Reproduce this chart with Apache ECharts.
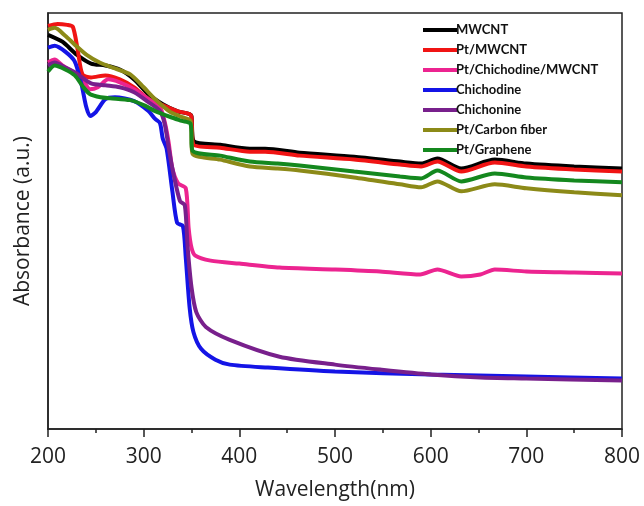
<!DOCTYPE html>
<html>
<head>
<meta charset="utf-8">
<script src="https://cdn.jsdelivr.net/npm/echarts@6/dist/echarts.min.js"></script>
<style>
  html, body { margin: 0; padding: 0; background: #fff; }
  #main { width: 644px; height: 506px; }
</style>
</head>
<body>
<div id="main"></div>
<script>
// [wavelength (nm), absorbance (a.u.)]
var mwcnt = [[200,3.98],[215,3.91],[230,3.78],[245,3.69],[260,3.67],[275,3.63],[290,3.53],[305,3.38],[320,3.28],[335,3.21],[348,3.18],[350,3.16],[352,2.91],[380,2.87],[411,2.83],[427,2.83],[463,2.79],[520,2.75],[568,2.70],[590,2.68],[607,2.73],[632,2.63],[667,2.72],[700,2.68],[750,2.65],[800,2.63]];
var ptMwcnt = [[200,4.07],[210,4.09],[220,4.08],[226,4.06],[231,3.83],[236,3.58],[245,3.55],[260,3.57],[275,3.53],[290,3.45],[305,3.33],[320,3.27],[335,3.21],[348,3.18],[350,3.15],[352,2.87],[380,2.84],[411,2.80],[427,2.80],[463,2.76],[520,2.72],[568,2.67],[590,2.65],[607,2.70],[632,2.60],[667,2.69],[700,2.65],[750,2.62],[800,2.60]];
var ptChichodine = [[200,3.70],[207,3.73],[215,3.67],[228,3.59],[237,3.51],[244,3.43],[252,3.45],[263,3.53],[275,3.50],[290,3.43],[305,3.33],[317,3.25],[322,3.10],[326,2.90],[330,2.63],[336,2.48],[344,2.43],[347,2.03],[350,1.83],[354,1.75],[370,1.70],[400,1.67],[442,1.63],[500,1.61],[547,1.59],[589,1.56],[607,1.61],[632,1.54],[652,1.56],[667,1.61],[700,1.59],[750,1.58],[800,1.57]];
var chichodine = [[200,3.85],[207,3.87],[218,3.81],[228,3.71],[235,3.48],[240,3.25],[244,3.16],[250,3.20],[260,3.33],[270,3.35],[290,3.31],[305,3.21],[312,3.13],[317,3.09],[320,2.93],[324,2.83],[330,2.40],[335,2.08],[341,2.05],[344,1.73],[348,1.23],[352,0.98],[360,0.81],[375,0.70],[390,0.65],[430,0.62],[500,0.58],[600,0.55],[700,0.53],[800,0.51]];
var chichonine = [[200,3.67],[207,3.70],[218,3.65],[230,3.59],[245,3.49],[260,3.47],[275,3.45],[290,3.40],[305,3.30],[317,3.21],[322,3.08],[326,2.85],[330,2.63],[338,2.30],[343,2.26],[346,1.83],[350,1.43],[355,1.18],[365,1.03],[390,0.90],[442,0.73],[500,0.65],[547,0.60],[600,0.55],[652,0.52],[700,0.51],[800,0.49]];
var ptCarbon = [[200,4.03],[207,4.05],[218,3.97],[228,3.88],[240,3.78],[254,3.70],[270,3.64],[286,3.58],[300,3.45],[312,3.33],[328,3.20],[340,3.15],[349,3.11],[351,2.78],[380,2.72],[411,2.65],[440,2.63],[463,2.61],[520,2.54],[568,2.47],[590,2.44],[607,2.50],[632,2.40],[667,2.47],[700,2.43],[750,2.39],[800,2.36]];
var ptGraphene = [[200,3.61],[207,3.67],[218,3.63],[228,3.57],[237,3.45],[244,3.38],[255,3.35],[265,3.34],[286,3.32],[300,3.27],[312,3.21],[328,3.15],[340,3.11],[349,3.08],[351,2.81],[380,2.76],[411,2.70],[440,2.68],[463,2.66],[520,2.60],[568,2.55],[590,2.53],[607,2.61],[632,2.50],[667,2.58],[700,2.54],[750,2.51],[800,2.49]];

var names = ['MWCNT', 'Pt/MWCNT', 'Pt/Chichodine/MWCNT', 'Chichodine', 'Chichonine', 'Pt/Carbon fiber', 'Pt/Graphene'];
var colors = ['#000000', '#f01414', '#ec2490', '#1414e6', '#78208c', '#8c8a18', '#14881e'];
var datas = [mwcnt, ptMwcnt, ptChichodine, chichodine, chichonine, ptCarbon, ptGraphene];

var myChart = echarts.init(document.getElementById('main'));

var series = [];
for (var i = 0; i < names.length; i++) {
  series.push({
    name: names[i],
    type: 'line',
    data: datas[i],
    showSymbol: false,
    smooth: 0.25,
    lineStyle: { width: 4, color: colors[i] },
    itemStyle: { color: colors[i] }
  });
}

var option = {
  animation: false,
  grid: { left: 48, right: 22, top: 13, bottom: 73, show: true, borderColor: '#222', borderWidth: 1.5 },
  legend: {
    orient: 'vertical',
    left: 418,
    top: 18,
    icon: 'rect',
    itemWidth: 34,
    itemHeight: 4,
    itemGap: 6,
    data: names,
    textStyle: { fontFamily: 'Lato', fontWeight: 'bold', fontSize: 13, lineHeight: 14, color: '#111', padding: [0, 0, 0, -6] }
  },
  xAxis: {
    type: 'value',
    min: 200,
    max: 800,
    interval: 100,
    name: 'Wavelength(nm)',
    nameLocation: 'middle',
    nameGap: 51,
    nameTextStyle: { fontFamily: 'Open Sans', fontSize: 21, color: '#222' },
    axisLine: { lineStyle: { color: '#222', width: 1.5 } },
    axisTick: { length: 8, lineStyle: { color: '#222', width: 1.5 } },
    minorTick: { show: true, splitNumber: 2, length: 4, lineStyle: { color: '#222', width: 1.5 } },
    axisLabel: { fontFamily: 'Open Sans', fontSize: 21, color: '#222', margin: 18 },
    splitLine: { show: false }
  },
  yAxis: {
    type: 'value',
    min: 0,
    max: 4.2,
    name: 'Absorbance (a.u.)',
    nameLocation: 'middle',
    nameGap: 14,
    nameTextStyle: { fontFamily: 'Open Sans', fontSize: 21, color: '#222' },
    axisLine: { show: true, lineStyle: { color: '#222', width: 1.5 } },
    axisTick: { show: false },
    axisLabel: { show: false },
    splitLine: { show: false }
  },
  series: series
};

myChart.setOption(option);
</script>
</body>
</html>
